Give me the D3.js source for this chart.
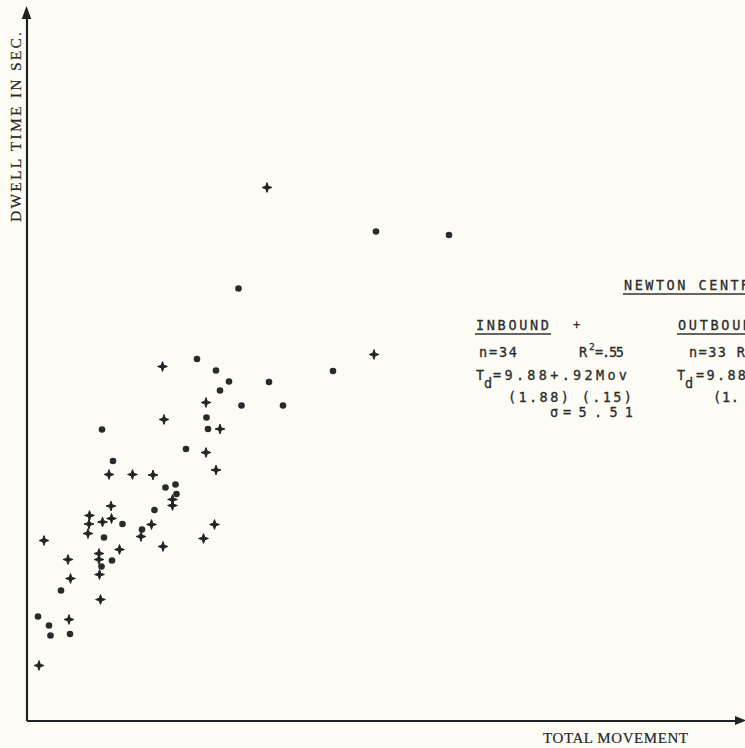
<!DOCTYPE html>
<html>
<head>
<meta charset="utf-8">
<script src="https://cdn.jsdelivr.net/npm/d3@7"></script>
<style>
  html, body { margin: 0; padding: 0; background: #fcfcf5; }
  svg { display: block; }
  .mono { font-family: "DejaVu Sans Mono", "Liberation Mono", monospace; fill: #2c2c2c; stroke: #2c2c2c; stroke-width: 0.3; }
  .serif { font-family: "Liberation Serif", "DejaVu Serif", serif; fill: #262626; stroke: #262626; stroke-width: 0.2; }
</style>
</head>
<body>
<script>
// Inbound trips (plotted with "+"): total movement, dwell time
const inboundMov = [48.1, 69.5, 27.2, 35.9, 27.5, 38.7, 35.9, 37.9, 16.5, 21.2, 25.3, 29.2,
  29.2, 16.9, 12.6, 12.5, 12.3, 17.0, 15.2, 25.0, 37.6, 22.9, 35.4, 27.3, 18.6, 3.5,
  14.5, 14.5, 14.6, 8.3, 8.8, 14.8, 8.5, 2.5];
const inboundDwell = [105.9, 72.5, 70.1, 62.9, 59.5, 57.6, 52.9, 49.4, 48.5, 48.5, 48.4, 43.5,
  42.3, 42.2, 40.3, 38.6, 36.7, 39.7, 39.0, 38.5, 38.5, 36.1, 35.7, 34.1, 33.5, 35.3,
  32.7, 31.5, 28.5, 31.5, 27.7, 23.5, 19.5, 10.3];

// Outbound trips (plotted with dots)
const outboundMov = [42.4, 69.9, 84.5, 34.1, 37.9, 40.5, 48.5, 38.7, 43.0, 51.3, 61.3, 36.0,
  36.3, 15.1, 31.9, 17.3, 27.8, 29.8, 30.0, 25.6, 19.2, 23.1, 15.5, 17.1, 15.0, 6.9,
  2.3, 4.5, 4.8, 8.7];
const outboundDwell = [85.7, 97.1, 96.4, 71.6, 69.3, 67.1, 67.0, 65.3, 62.3, 62.3, 69.2, 59.9,
  57.6, 57.5, 53.6, 51.2, 45.9, 46.5, 44.6, 41.4, 38.6, 37.5, 35.9, 31.3, 30.1, 25.3,
  20.1, 18.3, 16.3, 16.6];

// Axis titles and regression summary text
const xTitle = "TOTAL MOVEMENT";
const yTitle = "DWELL TIME IN SEC.";
const stationTitle = "NEWTON CENTRE";
const inboundLabel = "INBOUND";
const outboundLabel = "OUTBOUND";

const W = 745, H = 748;
const svg = d3.select("body").append("svg").attr("width", W).attr("height", H);

const x = d3.scaleLinear().domain([0, 143.7]).range([26.5, 745]);
const y = d3.scaleLinear().domain([-0.7, 143.4]).range([720.5, 0]);

const ink = "#222222";

// Axes without ticks, ending in arrowheads
svg.append("g").attr("transform", `translate(0,${y(-0.7)})`)
  .call(d3.axisBottom(x.copy().range([26.5, 738]).domain([0, x.invert(738)])).tickValues([]).tickSizeOuter(0))
  .call(g => g.select(".domain").attr("stroke", ink).attr("stroke-width", 2.2));
const yLine = y.copy().domain([-0.7, y.invert(14)]).range([720.5, 14]);
svg.append("g").attr("transform", `translate(${x(0)},0)`)
  .call(d3.axisLeft(yLine).tickValues([]).tickSizeOuter(0))
  .call(g => g.select(".domain").attr("stroke", ink).attr("stroke-width", 2.2));

const ax0 = x(0), ay0 = y(-0.7);
svg.append("path")
  .attr("d", `M${ax0},6 L${ax0 + 4.8},19 L${ax0 - 4.8},19 Z`)
  .attr("fill", ink);
svg.append("path")
  .attr("d", `M746,${ay0} L735,${ay0 - 4.5} L735,${ay0 + 4.5} Z`)
  .attr("fill", ink);

// Axis titles
svg.append("text").attr("class", "serif")
  .attr("transform", "translate(20.5,127) rotate(-90)")
  .attr("text-anchor", "middle")
  .attr("font-size", 15.5)
  .attr("textLength", 190).attr("lengthAdjust", "spacing")
  .text(yTitle);
svg.append("text").attr("class", "serif")
  .attr("x", 543).attr("y", 743)
  .attr("font-size", 15)
  .attr("textLength", 145).attr("lengthAdjust", "spacing")
  .text(xTitle);

// Markers
const plusPath = (() => {
  const R = 4.9, r = 1.8;
  const p = d3.path();
  for (let i = 0; i < 8; i++) {
    const a = i * Math.PI / 4 - Math.PI / 2;
    const rad = i % 2 === 0 ? R : r;
    const px = rad * Math.cos(a), py = rad * Math.sin(a);
    if (i === 0) p.moveTo(px, py); else p.lineTo(px, py);
  }
  p.closePath();
  return p.toString();
})();

const inbound = inboundMov.map((m, i) => ({ m, d: inboundDwell[i] }));
const outbound = outboundMov.map((m, i) => ({ m, d: outboundDwell[i] }));

svg.append("g").selectAll("circle").data(outbound).join("circle")
  .attr("cx", d => x(d.m)).attr("cy", d => y(d.d))
  .attr("r", 3.3).attr("fill", "#2a2a2a");

svg.append("g").selectAll("path").data(inbound).join("path")
  .attr("transform", d => `translate(${x(d.m)},${y(d.d)})`)
  .attr("d", plusPath).attr("fill", ink)
  .attr("stroke", ink).attr("stroke-width", 1).attr("stroke-linejoin", "round");

// Regression summary block
const T = svg.append("g");
function txt(str, px, py, size, len) {
  const t = T.append("text").attr("class", "mono")
    .attr("x", px).attr("y", py).attr("font-size", size).text(str);
  if (len) t.attr("textLength", len).attr("lengthAdjust", "spacing");
  return t;
}
function underline(x1, x2, py) {
  T.append("line").attr("x1", x1).attr("x2", x2).attr("y1", py).attr("y2", py)
    .attr("stroke", "#333").attr("stroke-width", 1.4);
}

txt(stationTitle, 624, 290, 13.5, 136);
underline(623, 760, 294);

txt(inboundLabel, 476, 330, 13.5, 73);
underline(475, 551, 334);
txt("+", 573, 329, 12);
txt(outboundLabel, 678, 330, 13.5, 84);
underline(677, 760, 334);

txt("n=34", 479, 357, 13.5, 38);
txt("R", 579, 357, 13.5);
txt("2", 589, 350, 9.5);
txt("=.55", 595, 357, 13.5, 29);
txt("n=33 R", 689, 357, 13.5, 56);

txt("T", 476, 380, 13.5);
txt("d", 484, 388, 13.5);
txt("=9.88+.92Mov", 493, 380, 13.5, 134);
txt("T", 677, 380, 13.5);
txt("d", 685, 388, 13.5);
txt("=9.88", 696, 380, 13.5, 50);

txt("(1.88) (.15)", 508, 402, 13.5, 124);
txt("(1.", 713, 402, 13.5, 26);

txt("\u03C3", 550, 417, 13.5);
txt("=5.51", 563, 417, 13.5, 70);
</script>
</body>
</html>
